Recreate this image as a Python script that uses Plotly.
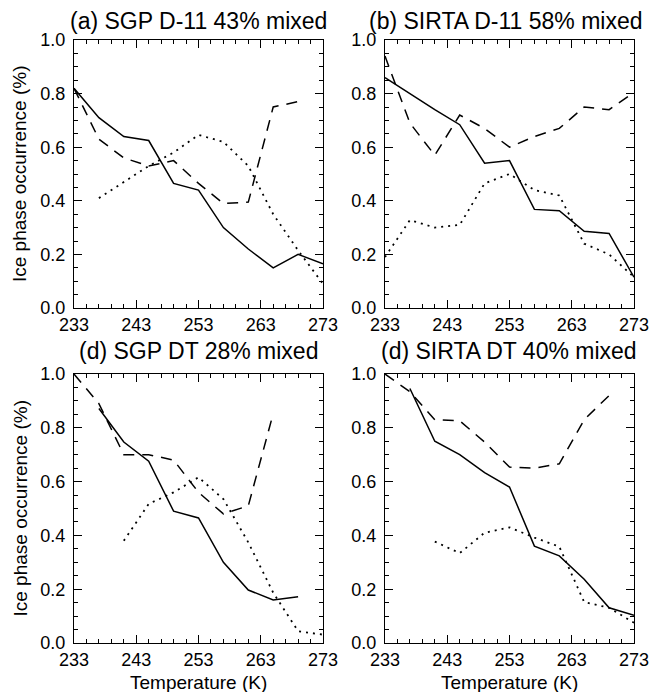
import plotly.graph_objects as go

temps = [233, 237, 241, 245, 249, 253, 257, 261, 265, 269, 273]

titles = ["(a) SGP D-11 43% mixed", "(b) SIRTA D-11 58% mixed",
          "(d) SGP DT 28% mixed", "(d) SIRTA DT 40% mixed"]

# panel a
a_solid = [0.82, 0.71, 0.64, 0.625, 0.465, 0.44, 0.30, 0.22, 0.15, 0.20, 0.165]
a_dash = [0.82, 0.63, 0.56, 0.53, 0.55, 0.465, 0.39, 0.395, 0.75, 0.77, None]
a_dot = [None, 0.41, 0.47, 0.53, 0.58, 0.646, 0.62, 0.53, 0.35, 0.215, 0.09]
# panel b
b_solid = [0.86, 0.80, 0.74, 0.684, 0.54, 0.55, 0.368, 0.363, 0.286, 0.278, 0.115]
b_dash = [0.94, 0.69, 0.57, 0.72, 0.67, 0.60, 0.64, 0.67, 0.75, 0.74, 0.805]
b_dot = [0.19, 0.328, 0.30, 0.31, 0.465, 0.50, 0.44, 0.42, 0.24, 0.20, 0.115]
# panel c
c_solid = [None, 0.872, 0.747, 0.676, 0.49, 0.465, 0.30, 0.197, 0.16, 0.172, None]
c_dash = [1.0, 0.89, 0.70, 0.70, 0.68, 0.56, 0.48, 0.51, 0.853, None, None]
c_dot = [None, None, 0.38, 0.517, 0.56, 0.616, 0.535, 0.374, 0.187, 0.044, 0.031]
# panel d
d_solid = [None, 0.946, 0.75, 0.70, 0.633, 0.58, 0.36, 0.324, 0.237, 0.131, 0.103]
d_dash = [1.0, 0.934, 0.83, 0.826, 0.747, 0.654, 0.65, 0.666, 0.83, 0.92, None]
d_dot = [None, None, 0.377, 0.334, 0.41, 0.43, 0.392, 0.358, 0.152, 0.131, 0.075]

panels = [(a_solid, a_dash, a_dot), (b_solid, b_dash, b_dot),
          (c_solid, c_dash, c_dot), (d_solid, d_dash, d_dot)]

x_ticks = [233, 243, 253, 263, 273]
y_ticks = [0.0, 0.2, 0.4, 0.6, 0.8, 1.0]
y_ticklabels = ["0.0", "0.2", "0.4", "0.6", "0.8", "1.0"]

W, H = 663, 692
OFF = 8  # default page body margin
xdoms = [(74, 323), (385, 634)]
ydoms = [(40, 308), (374, 643)]
title_pos = [(198, 21), (506, 21), (198, 351), (509, 351)]


def px(x):
    return (x - OFF) / W


def py(y):
    return 1 - (y - OFF) / H


FONT = "Liberation Sans, Arial, Helvetica, sans-serif"

fig = go.Figure()
layout = dict(template="none", width=W, height=H,
              margin=dict(l=0, r=0, t=0, b=0, pad=0, autoexpand=False),
              paper_bgcolor="white", plot_bgcolor="white", showlegend=False,
              font=dict(family=FONT, color="black"))
annotations = []

for i, (solid, dash, dot) in enumerate(panels):
    row, col = divmod(i, 2)
    n = i + 1
    xa = "x" if n == 1 else f"x{n}"
    ya = "y" if n == 1 else f"y{n}"
    for ys, dsh, lw in ((solid, "solid", 1.5), (dash, "11px,8px", 1.5), (dot, "2px,5px", 1.8)):
        fig.add_trace(go.Scatter(x=temps, y=ys, mode="lines", xaxis=xa, yaxis=ya,
                                 line=dict(color="black", width=lw, dash=dsh),
                                 connectgaps=False, hoverinfo="skip"))
    x0, x1 = xdoms[col]
    y0, y1 = ydoms[row]
    xkey = "xaxis" if n == 1 else f"xaxis{n}"
    ykey = "yaxis" if n == 1 else f"yaxis{n}"
    layout[xkey] = dict(domain=[px(x0), px(x1)], anchor=ya, range=[233, 273],
                        automargin=False,
                        tickmode="array", tickvals=x_ticks,
                        ticktext=[str(t) for t in x_ticks],
                        ticks="inside", ticklen=8, tickwidth=1, tickcolor="black",
                        minor=dict(dtick=2, tick0=233, ticks="inside", ticklen=4,
                                   tickcolor="black", tickwidth=1, showgrid=False),
                        showline=True, linecolor="black", linewidth=1.2, mirror="ticks",
                        showgrid=False, zeroline=False,
                        tickfont=dict(size=18, family=FONT, color="black"))
    layout[ykey] = dict(domain=[py(y1), py(y0)], anchor=xa, range=[0, 1],
                        automargin=False,
                        tickmode="array", tickvals=y_ticks, ticktext=y_ticklabels,
                        ticks="inside", ticklen=8, tickwidth=1, tickcolor="black",
                        ticklabelstandoff=4,
                        minor=dict(dtick=0.05, tick0=0, ticks="inside", ticklen=4,
                                   tickcolor="black", tickwidth=1, showgrid=False),
                        showline=True, linecolor="black", linewidth=1.2, mirror="ticks",
                        showgrid=False, zeroline=False,
                        tickfont=dict(size=18, family=FONT, color="black"))
    tx, ty = title_pos[i]
    annotations.append(dict(text=titles[i], xref="paper", yref="paper",
                            x=px(tx), y=py(ty), borderpad=0,
                            xanchor="center", yanchor="middle", showarrow=False,
                            font=dict(size=23, family=FONT, color="black")))
    if row == 1:
        annotations.append(dict(text="Temperature (K)", xref="paper", yref="paper",
                                x=px((x0 + x1) / 2), y=py(682),
                                xanchor="center", yanchor="middle", showarrow=False,
                                font=dict(size=19, family=FONT, color="black")))
    if col == 0:
        annotations.append(dict(text="Ice phase occurrence (%)", xref="paper", yref="paper",
                                x=px(20), y=py((y0 + y1) / 2), textangle=-90,
                                xanchor="center", yanchor="middle", showarrow=False,
                                font=dict(size=19, family=FONT, color="black")))

layout["annotations"] = annotations
fig.update_layout(**layout)
fig.write_html("out.html")
